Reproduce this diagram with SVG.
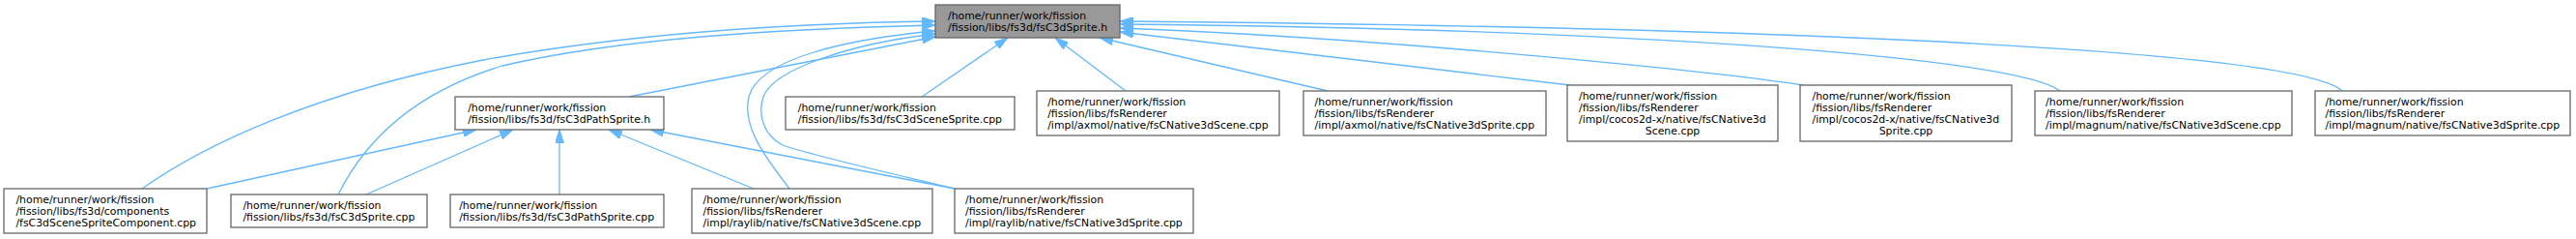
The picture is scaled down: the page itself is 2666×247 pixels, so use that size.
<svg xmlns="http://www.w3.org/2000/svg" width="2666" height="247" viewBox="0 0 2666 247">
<defs>
<style>
.n rect{fill:#ffffff;stroke:#666666;stroke-width:1.3}
.n.main rect{fill:#999999}
.n text{font-family:"DejaVu Sans",sans-serif;font-size:10.9px;fill:#000000}
.e path{fill:none;stroke:#63b8ff;stroke-width:1.3;marker-end:url(#ah)}
</style>
<marker id="ah" markerUnits="userSpaceOnUse" viewBox="0 0 14 9" refX="14" refY="4.5" markerWidth="14" markerHeight="9" orient="auto">
<path d="M0,0 L14,4.5 L0,9 z" fill="#63b8ff" stroke="#63b8ff" stroke-width="1"/>
</marker>
</defs>
<rect width="2666" height="247" fill="#ffffff"/>
<g id="connectors" class="e">
<path d="M147,195 C215,147 330,95 500,62 C650,35 820,24 968,22"/>
<path d="M350,201 C378,145 430,95 520,68 C640,40 800,30 968,26"/>
<path d="M651,100 L968,38"/>
<path d="M817,195 C790,160 768,130 775,100 C785,60 880,40 968,32"/>
<path d="M988,195 C900,174 830,158 810,150 C790,140 784,118 790,100 C800,72 880,45 968,35"/>
<path d="M954,100 L1043,39"/>
<path d="M1165,94 L1092,39"/>
<path d="M1374,94 L1138,39"/>
<path d="M1625,88 L1159,33"/>
<path d="M1866,88 C1790,76 1450,40 1159,29"/>
<path d="M2132,94 C2090,60 1700,30 1159,25"/>
<path d="M2424,94 C2380,52 1850,28 1159,22"/>
<path d="M214,195 L493,134"/>
<path d="M379,201 L531,134"/>
<path d="M579,201 L579,134"/>
<path d="M780,195 L630,134"/>
<path d="M988,195 L673,134"/>
</g>
<g id="node-main" class="n main">
<rect x="968" y="5" width="191" height="34"/>
<text x="981" y="19.8">/home/runner/work/fission</text>
<text x="981" y="31.8">/fission/libs/fs3d/fsC3dSprite.h</text>
</g>
<g id="node-pathsprite-h" class="n">
<rect x="471" y="100" width="216" height="34"/>
<text x="484.2" y="114.8">/home/runner/work/fission</text>
<text x="484.2" y="126.8">/fission/libs/fs3d/fsC3dPathSprite.h</text>
</g>
<g id="node-scenesprite-cpp" class="n">
<rect x="813" y="100" width="237" height="34"/>
<text x="825.8" y="114.8">/home/runner/work/fission</text>
<text x="825.8" y="126.8">/fission/libs/fs3d/fsC3dSceneSprite.cpp</text>
</g>
<g id="node-axmol-scene" class="n">
<rect x="1073" y="94" width="251" height="46"/>
<text x="1084.2" y="108.8">/home/runner/work/fission</text>
<text x="1084.2" y="120.8">/fission/libs/fsRenderer</text>
<text x="1084.2" y="132.8">/impl/axmol/native/fsCNative3dScene.cpp</text>
</g>
<g id="node-axmol-sprite" class="n">
<rect x="1349" y="94" width="251" height="46"/>
<text x="1360.6" y="108.8">/home/runner/work/fission</text>
<text x="1360.6" y="120.8">/fission/libs/fsRenderer</text>
<text x="1360.6" y="132.8">/impl/axmol/native/fsCNative3dSprite.cpp</text>
</g>
<g id="node-cocos-scene" class="n">
<rect x="1622" y="88" width="218" height="58"/>
<text x="1634" y="102.8">/home/runner/work/fission</text>
<text x="1634" y="114.8">/fission/libs/fsRenderer</text>
<text x="1634" y="126.8">/impl/cocos2d-x/native/fsCNative3d</text>
<text x="1731" y="138.8" text-anchor="middle">Scene.cpp</text>
</g>
<g id="node-cocos-sprite" class="n">
<rect x="1863" y="88" width="219" height="58"/>
<text x="1875.5" y="102.8">/home/runner/work/fission</text>
<text x="1875.5" y="114.8">/fission/libs/fsRenderer</text>
<text x="1875.5" y="126.8">/impl/cocos2d-x/native/fsCNative3d</text>
<text x="1972.5" y="138.8" text-anchor="middle">Sprite.cpp</text>
</g>
<g id="node-magnum-scene" class="n">
<rect x="2106" y="94" width="266" height="46"/>
<text x="2117.1" y="108.8">/home/runner/work/fission</text>
<text x="2117.1" y="120.8">/fission/libs/fsRenderer</text>
<text x="2117.1" y="132.8">/impl/magnum/native/fsCNative3dScene.cpp</text>
</g>
<g id="node-magnum-sprite" class="n">
<rect x="2396" y="94" width="264" height="46"/>
<text x="2406.5" y="108.8">/home/runner/work/fission</text>
<text x="2406.5" y="120.8">/fission/libs/fsRenderer</text>
<text x="2406.5" y="132.8">/impl/magnum/native/fsCNative3dSprite.cpp</text>
</g>
<g id="node-components" class="n">
<rect x="4" y="195" width="210" height="46"/>
<text x="16.4" y="209.8">/home/runner/work/fission</text>
<text x="16.4" y="221.8">/fission/libs/fs3d/components</text>
<text x="16.4" y="233.8">/fsC3dSceneSpriteComponent.cpp</text>
</g>
<g id="node-sprite-cpp" class="n">
<rect x="239" y="201" width="203" height="34"/>
<text x="251.4" y="215.8">/home/runner/work/fission</text>
<text x="251.4" y="227.8">/fission/libs/fs3d/fsC3dSprite.cpp</text>
</g>
<g id="node-pathsprite-cpp" class="n">
<rect x="466" y="201" width="221" height="34"/>
<text x="475.2" y="215.8">/home/runner/work/fission</text>
<text x="475.2" y="227.8">/fission/libs/fs3d/fsC3dPathSprite.cpp</text>
</g>
<g id="node-raylib-scene" class="n">
<rect x="716" y="195" width="249" height="46"/>
<text x="727.6" y="209.8">/home/runner/work/fission</text>
<text x="727.6" y="221.8">/fission/libs/fsRenderer</text>
<text x="727.6" y="233.8">/impl/raylib/native/fsCNative3dScene.cpp</text>
</g>
<g id="node-raylib-sprite" class="n">
<rect x="988" y="195" width="247" height="46"/>
<text x="999.1" y="209.8">/home/runner/work/fission</text>
<text x="999.1" y="221.8">/fission/libs/fsRenderer</text>
<text x="999.1" y="233.8">/impl/raylib/native/fsCNative3dSprite.cpp</text>
</g>
</svg>
